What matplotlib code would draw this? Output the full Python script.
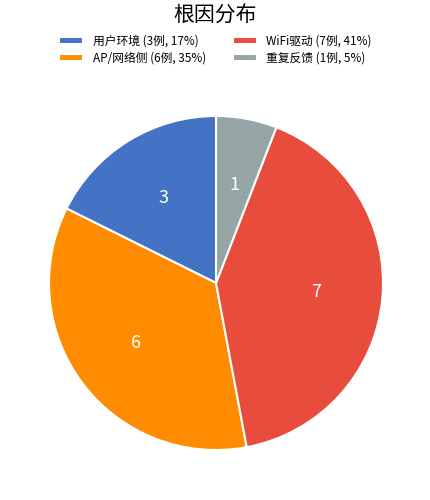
import matplotlib
matplotlib.use("Agg")
import matplotlib.pyplot as plt

plt.rcParams['font.family'] = ['Noto Sans CJK SC', 'DejaVu Sans']

# root cause categories and counts
categories = ['用户环境', 'AP/网络侧', 'WiFi驱动', '重复反馈']
counts = [3, 6, 7, 1]
pct_labels = ['17%', '35%', '41%', '5%']
colors = ['#4472C4', '#FF8C00', '#E74C3C', '#95A5A6']

fig = plt.figure(figsize=(4.31, 5.0), dpi=100)
ax = fig.add_axes([0.1137, 0.1, 0.775, 0.668])

wedges, texts = ax.pie(counts, colors=colors, startangle=90,
                       labels=[str(c) for c in counts], labeldistance=0.6,
                       wedgeprops={'edgecolor': 'white', 'linewidth': 1.5},
                       textprops={'color': 'white', 'fontsize': 13})
for t in texts:
    t.set_horizontalalignment('center')
    t.set_verticalalignment('center')
ax.set_xlim(-1, 1)
ax.set_ylim(-1, 1)
ax.set_aspect('equal')

legend_labels = [f'{n} ({c}例, {p})' for n, c, p in zip(categories, counts, pct_labels)]
fig.legend(wedges, legend_labels, loc='upper center', bbox_to_anchor=(0.5, 0.952),
           ncol=2, frameon=False, fontsize=8.5, handlelength=2.0, handleheight=0.5,
           columnspacing=2.3, labelspacing=0.35)

fig.suptitle('根因分布', fontsize=15, y=0.99)

fig.savefig('out.png', dpi=100)
